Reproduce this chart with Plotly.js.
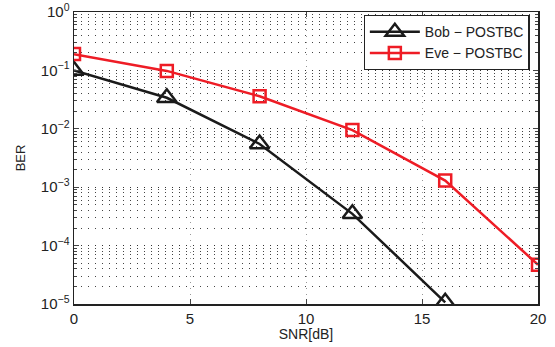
<!DOCTYPE html>
<html><head><meta charset="utf-8">
<script src="https://cdn.plot.ly/plotly-3.0.1.min.js"></script>
<style>html,body{margin:0;padding:0;background:#fff}</style>
</head><body>
<div id="chart" style="width:555px;height:347px"></div>
<script>
const snr = [0, 4, 8, 12, 16, 20];
const bobSnr = [0, 4, 8, 12, 16];
const bobBer = [0.1, 0.034, 0.0055, 0.00035, 0.0000107];
const eveBer = [0.19, 0.098, 0.036, 0.0095, 0.0013, 0.000047];
const yTickVals = [1e-5, 1e-4, 1e-3, 1e-2, 1e-1, 1];
const yTickText = ['10<sup>−5</sup>','10<sup>−4</sup>','10<sup>−3</sup>','10<sup>−2</sup>','10<sup>−1</sup>','10<sup>0</sup>'];
const xTickVals = [0, 5, 10, 15, 20];

const traces = [
  {x: bobSnr, y: bobBer, name: 'Bob − POSTBC', mode: 'lines+markers',
   line: {color: '#1a1a1a', width: 2.5},
   marker: {symbol: 'triangle-up-open', size: 17, color: '#1a1a1a', line: {width: 2.5, color: '#1a1a1a'}}},
  {x: snr, y: eveBer, name: 'Eve − POSTBC', mode: 'lines+markers',
   line: {color: '#ee1c25', width: 2.5},
   marker: {symbol: 'square-open', size: 12, color: '#ee1c25', line: {width: 2.5, color: '#ee1c25'}}}
];

const layout = {
  width: 555, height: 347,
  margin: {l: 74, r: 17, t: 12, b: 43},
  paper_bgcolor: '#fff', plot_bgcolor: '#fff',
  font: {family: 'Liberation Sans, Arial, sans-serif', size: 13, color: '#222'},
  showlegend: true,
  legend: {x: 0.982, xanchor: 'right', y: 0.99, yanchor: 'top',
    bgcolor: '#fff', bordercolor: '#222', borderwidth: 1.2,
    font: {size: 14, color: '#222'}, tracegroupgap: 0, itemwidth: 50},
  xaxis: {range: [0, 20], tickvals: xTickVals, ticks: 'inside', ticklen: 5,
    showline: true, linecolor: '#222', linewidth: 1.5, mirror: 'allticks',
    showgrid: true, gridcolor: '#999', griddash: '1px,5px', gridwidth: 1,
    zeroline: false, tickfont: {size: 15},
    title: {text: 'SNR[dB]', font: {size: 14}, standoff: 3}},
  yaxis: {type: 'log', range: [-5, 0], tickvals: yTickVals, ticktext: yTickText,
    ticks: 'inside', ticklen: 5,
    showline: true, linecolor: '#222', linewidth: 1.5, mirror: 'allticks',
    showgrid: true, gridcolor: '#333', griddash: '1px,6px', gridwidth: 1,
    zeroline: false, tickfont: {size: 15},
    minor: {dtick: 'D1', ticks: 'inside', ticklen: 3, showgrid: true, gridcolor: '#444', griddash: '1px,6px', gridwidth: 1},
    title: {text: 'BER', font: {size: 13}, standoff: 12}}
};
Plotly.newPlot('chart', traces, layout, {displayModeBar: false, staticPlot: true});
</script>
</body></html>
